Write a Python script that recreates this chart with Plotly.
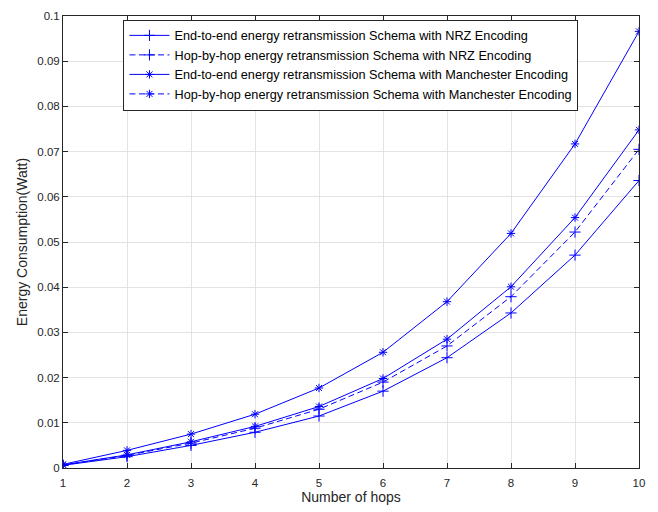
import plotly.graph_objects as go

hops = [1, 2, 3, 4, 5, 6, 7, 8, 9, 10]
e2e_nrz = [0.0006, 0.0025, 0.0050, 0.0079, 0.0115, 0.0170, 0.0244, 0.0343, 0.0471, 0.0636]
hbh_nrz = [0.0006, 0.0028, 0.0055, 0.0088, 0.0130, 0.0190, 0.0270, 0.0379, 0.0522, 0.0705]
e2e_man = [0.0008, 0.0039, 0.0075, 0.0119, 0.0177, 0.0256, 0.0368, 0.0519, 0.0717, 0.0966]
hbh_man = [0.0007, 0.0029, 0.0058, 0.0092, 0.0136, 0.0198, 0.0285, 0.0401, 0.0554, 0.0748]

names = [
    "End-to-end energy retransmission Schema with NRZ Encoding",
    "Hop-by-hop energy retransmission Schema with NRZ Encoding",
    "End-to-end energy retransmission Schema with Manchester Encoding",
    "Hop-by-hop energy retransmission Schema with Manchester Encoding",
]
yticks = [0, 0.01, 0.02, 0.03, 0.04, 0.05, 0.06, 0.07, 0.08, 0.09, 0.1]
ytick_labels = ["0", "0.01", "0.02", "0.03", "0.04", "0.05", "0.06", "0.07", "0.08", "0.09", "0.1"]

FONT = "Liberation Sans, Arial"
BLUE = "rgb(0,0,255)"
DASH = "6px,3.5px"
plus = dict(symbol="cross-thin", size=8, color=BLUE, line=dict(color=BLUE, width=1))
star = dict(symbol="asterisk-open", size=7, color=BLUE, line=dict(color=BLUE, width=1))

fig = go.Figure()
fig.add_trace(go.Scatter(x=hops, y=e2e_nrz, mode="lines+markers", name=names[0],
                         line=dict(color=BLUE, width=1), marker=plus))
fig.add_trace(go.Scatter(x=hops, y=hbh_nrz, mode="lines+markers", name=names[1],
                         line=dict(color=BLUE, width=1, dash=DASH), marker=plus))
fig.add_trace(go.Scatter(x=hops, y=e2e_man, mode="lines+markers", name=names[2],
                         line=dict(color=BLUE, width=1), marker=star))
# drawn solid in the figure, dashed in the legend
fig.add_trace(go.Scatter(x=hops, y=hbh_man, mode="lines+markers", name=names[3], showlegend=False,
                         line=dict(color=BLUE, width=1), marker=star))
fig.add_trace(go.Scatter(x=[None], y=[None], mode="lines+markers", name=names[3],
                         line=dict(color=BLUE, width=1, dash=DASH), marker=star))

axis_common = dict(
    showline=True, linecolor="#262626", linewidth=1, mirror="ticks",
    ticks="inside", ticklen=5, tickcolor="#262626", tickwidth=1,
    showgrid=True, gridcolor="#e3e3e3", gridwidth=1, zeroline=False,
    tickfont=dict(family=FONT, size=11.5, color="#262626"),
    title_font=dict(family=FONT, size=14, color="#262626"),
)

fig.update_layout(
    width=658, height=512,
    margin=dict(l=63, r=19, t=10, b=42),
    paper_bgcolor="white", plot_bgcolor="white",
    font=dict(family=FONT, size=12, color="#262626"),
    xaxis=dict(range=[1, 10], tickvals=hops, ticklabelstandoff=4,
               title=dict(text="Number of hops", standoff=3), **axis_common),
    yaxis=dict(range=[0, 0.1], tickvals=yticks, ticktext=ytick_labels,
               title=dict(text="Energy Consumption(Watt)", standoff=6), **axis_common),
    legend=dict(x=0.105, y=0.992, xanchor="left", yanchor="top",
                bgcolor="white", bordercolor="#262626", borderwidth=1,
                font=dict(family=FONT, size=12.7, color="#000000"),
                tracegroupgap=0, itemwidth=40),
    showlegend=True,
)

fig.write_html("out.html")
